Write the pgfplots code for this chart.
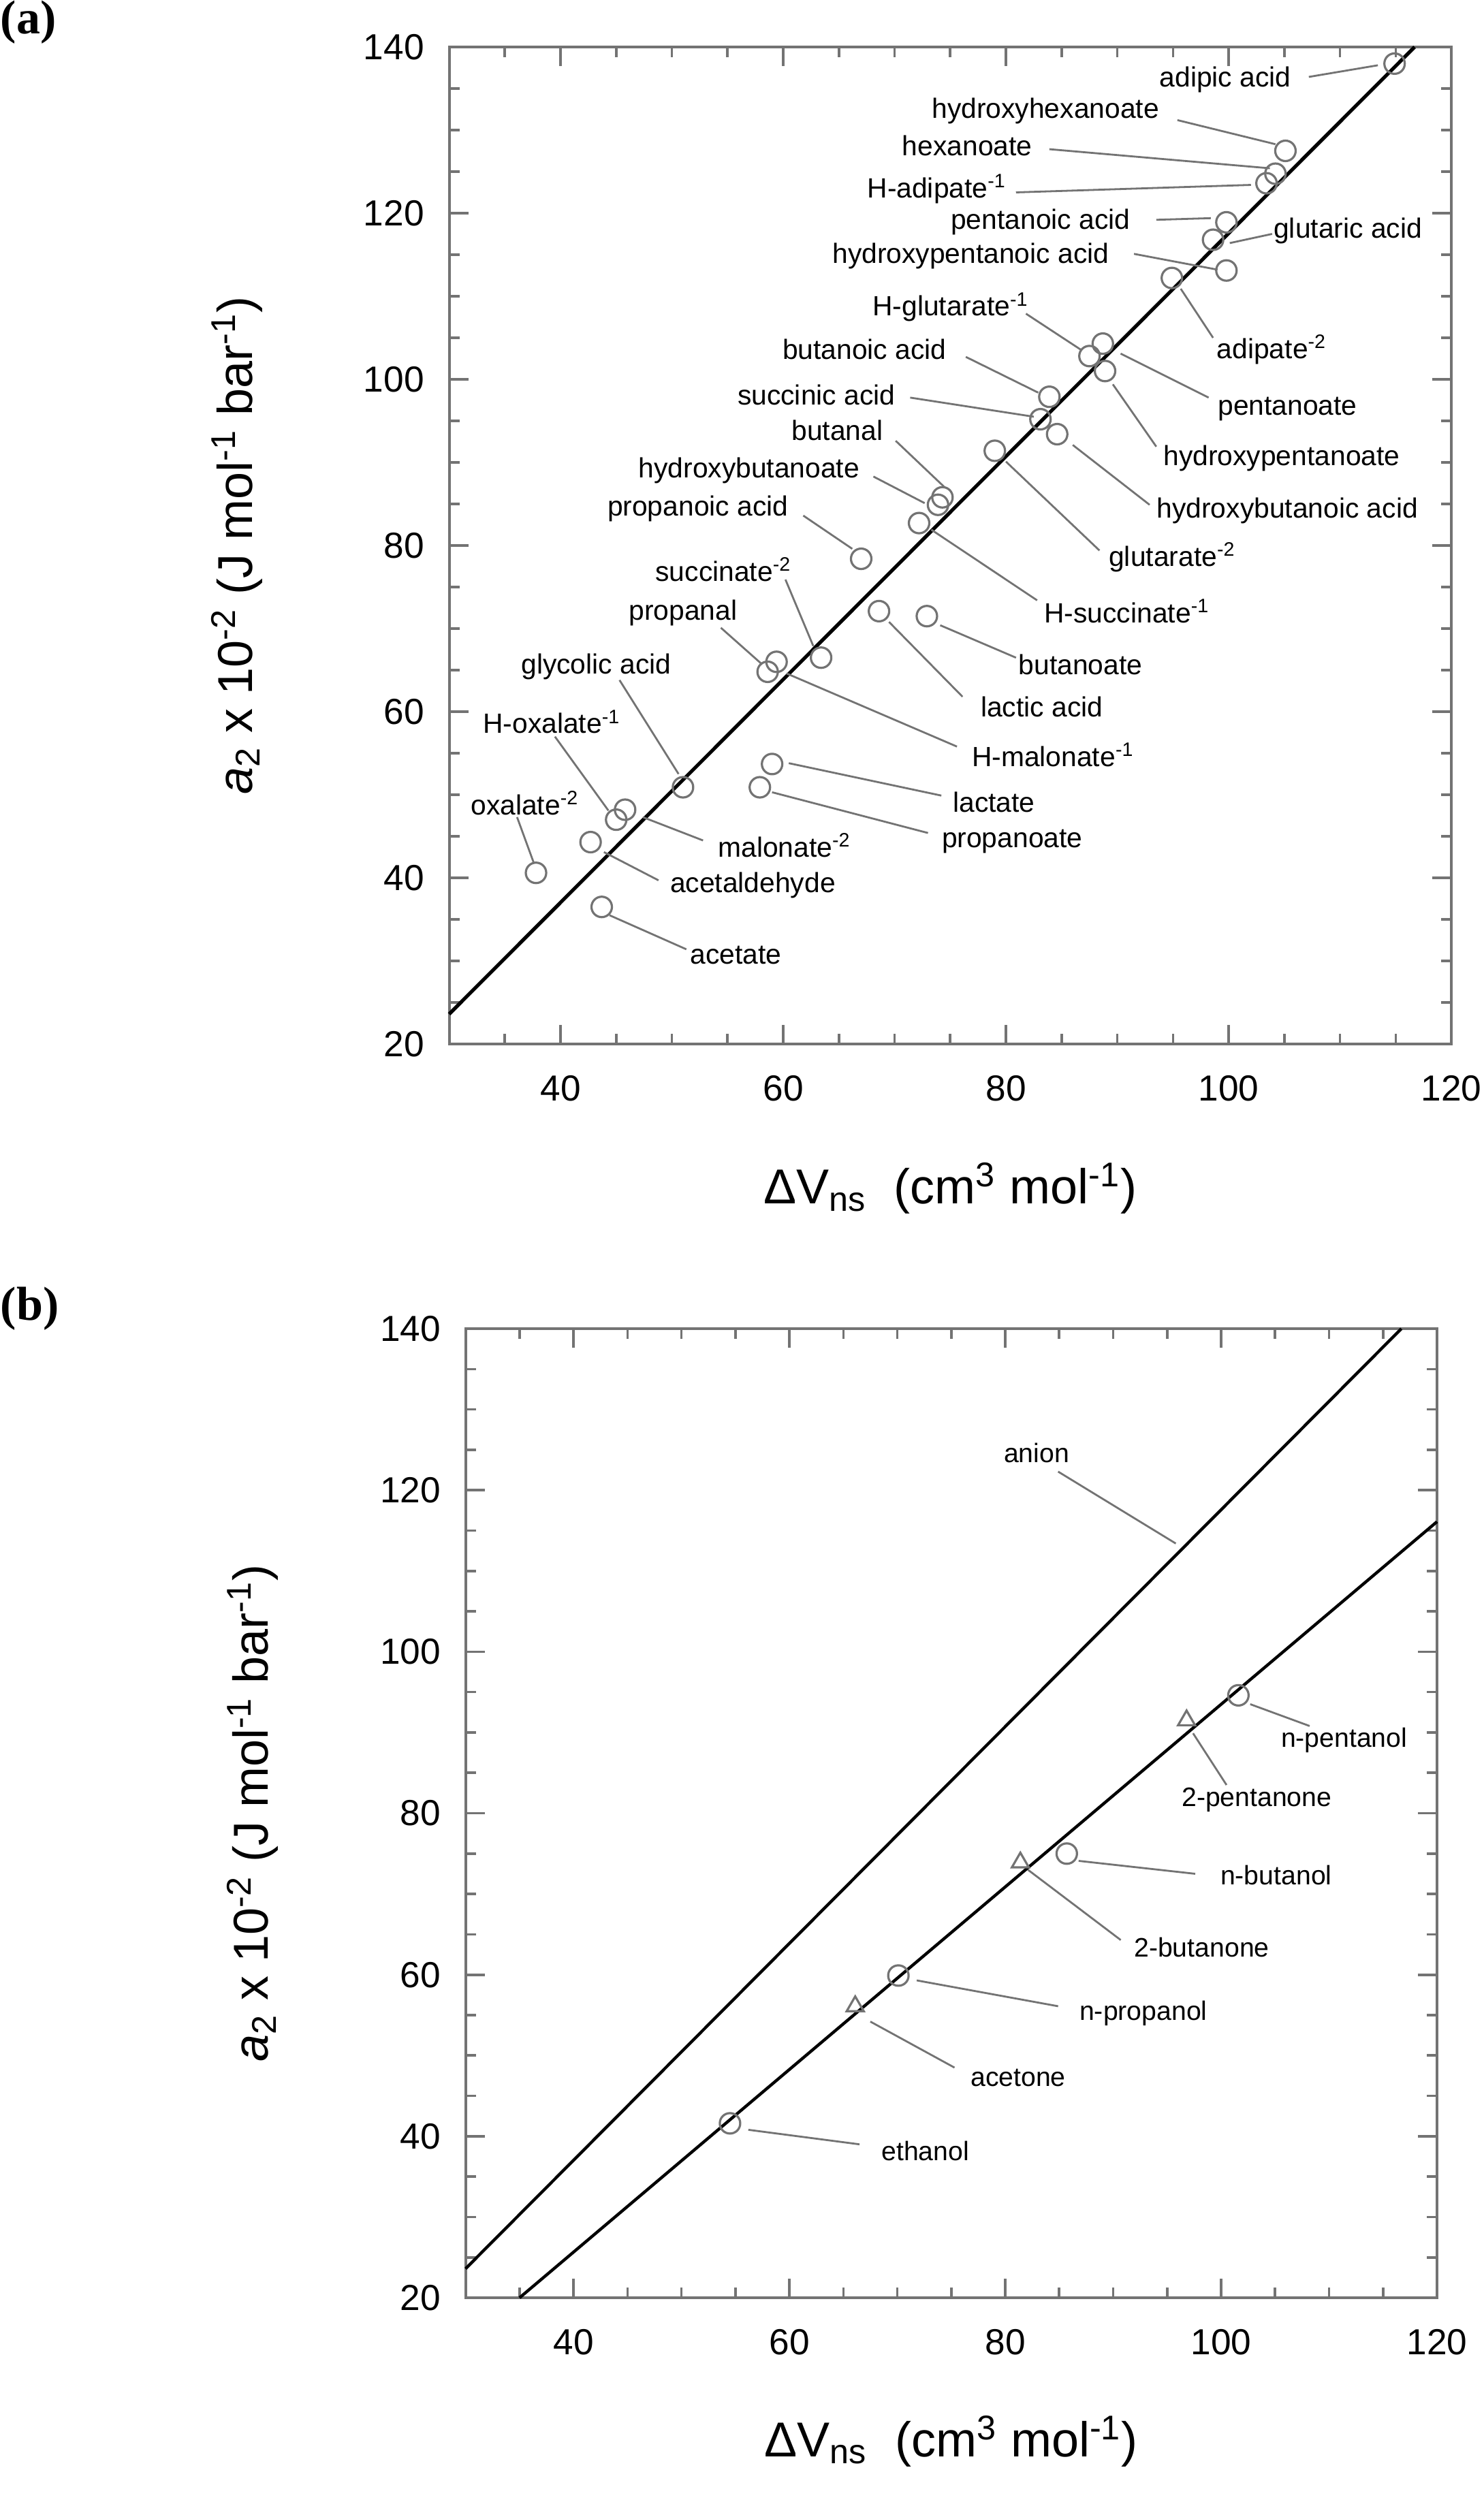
\documentclass[border=0pt]{standalone}
\usepackage{fontspec}
\setmainfont{Liberation Sans}
\newfontfamily\serifbf{Liberation Serif}
\usepackage{pgfplots}
\pgfplotsset{compat=1.18}

\pgfplotsset{
  panel/.style={
    scale only axis, anchor=south west, clip=false,
    xmin=30, xmax=120, ymin=20, ymax=140,
    xtick={40,60,...,120}, ytick={20,40,...,140},
    minor xtick={30,35,...,120}, minor ytick={20,25,...,140},
    tick align=inside,
    major tick length=7pt, minor tick length=3.75pt,
    axis line style={black!55, line width=1pt},
    every tick/.style={black!55, line width=0.9pt},
    ticklabel style={font=\fontsize{13.3}{16}\selectfont},
    /pgf/number format/assume math mode=true,
    xticklabel style={inner sep=0pt, anchor=north, yshift=-11.5pt},
    yticklabel style={inner sep=0pt, anchor=east, xshift=-9pt},
    label style={font=\fontsize{18}{21}\selectfont},
    xlabel={ΔV\textsubscript{ns}\ \ (cm\textsuperscript{3} mol\textsuperscript{-1})},
    ylabel={\textit{a}\textsubscript{2} x 10\textsuperscript{-2} (J mol\textsuperscript{-1} bar\textsuperscript{-1})},
  },
  pts/.style={only marks, mark=o, mark size=3.75pt, mark options={draw=black!55, line width=0.8pt}},
  tri/.style={only marks, mark=triangle, mark size=3.6pt, mark options={draw=black!55, line width=0.8pt}},
  fit/.style={black, line width=1.3pt},
}
\tikzset{
  lbl/.style={inner sep=0pt, font=\fontsize{10.2}{12}\selectfont},
  lblb/.style={inner sep=0pt, font=\fontsize{9.8}{12}\selectfont},
  ldr/.style={black!55, line width=0.7pt},
}

\begin{document}
\begin{tikzpicture}
\path[use as bounding box] (0,0) rectangle (544.75pt,-917.75pt);

\node[anchor=north west, inner sep=0pt, font=\serifbf\bfseries\fontsize{17.5}{20}\selectfont] at (0pt,0pt) {(a)};
\node[anchor=north west, inner sep=0pt, font=\serifbf\bfseries\fontsize{17.5}{20}\selectfont] at (0pt,-472.25pt) {(b)};

% ---------------- panel (a)
\begin{axis}[panel, at={(164.875pt,-383.25pt)}, width=367.9pt, height=366pt,
  xlabel style={at={(axis description cs:0.5,-0.145)}, anchor=center},
  ylabel style={at={(axis description cs:-0.212,0.5)}, anchor=center}]
\addplot[fit] coordinates {(30,23.6) (116.7,140)};
\addplot[pts] coordinates {
  (114.9,138.0) (105.1,127.5) (104.2,124.75) (103.4,123.6)
  (99.8,118.9) (98.6,116.8) (99.8,113.1) (94.9,112.2)
  (87.5,102.8) (88.7,104.3) (88.9,101.0)
  (83.9,97.9) (83.1,95.2) (84.6,93.4) (79.0,91.4)
  (74.3,85.8) (73.9,84.9) (72.2,82.7) (67.0,78.4)
  (63.4,66.5) (59.4,66.0) (58.6,64.8) (68.6,72.1) (72.9,71.5)
  (59.0,53.7) (57.9,50.9) (51.0,50.9)
  (45.0,47.0) (45.8,48.2) (42.7,44.3) (37.8,40.6) (43.7,36.5)
};
% labels and leaders
\node[lbl] at (99.7,136.1) {adipic acid};
\draw[ldr] (107.2,136.4) -- (113.4,137.8);
\node[lbl,anchor=east] at (93.8,132.3) {hydroxyhexanoate};
\draw[ldr] (95.4,131.2) -- (104.2,128.3);
\node[lbl,anchor=east] at (82.4,128.1) {hexanoate};
\draw[ldr] (83.9,127.7) -- (103.7,125.4);
\node[lbl,anchor=east] at (80.1,122.9) {H-adipate\textsuperscript{-1}};
\draw[ldr] (80.9,122.5) -- (102.0,123.4);
\node[lbl,anchor=east] at (91.2,118.9) {pentanoic acid};
\draw[ldr] (93.5,119.2) -- (98.4,119.4);
\node[lbl,anchor=west] at (104.0,117.9) {glutaric acid};
\draw[ldr] (103.9,117.5) -- (100.1,116.4);
\node[lbl,anchor=east] at (89.3,114.8) {hydroxypentanoic acid};
\draw[ldr] (91.5,115.1) -- (99.0,113.2);
\node[lbl,anchor=west] at (98.9,103.6) {adipate\textsuperscript{-2}};
\draw[ldr] (98.6,105.0) -- (95.7,110.9);
\node[lbl,anchor=west] at (99.0,96.4) {pentanoate};
\draw[ldr] (98.2,97.8) -- (90.3,103.1);
\node[lbl,anchor=west] at (94.1,90.5) {hydroxypentanoate};
\draw[ldr] (93.5,91.9) -- (89.6,99.4);
\node[lbl,anchor=west] at (93.5,84.2) {hydroxybutanoic acid};
\draw[ldr] (92.9,84.9) -- (86.0,92.1);
\node[lbl,anchor=west] at (89.2,78.6) {glutarate\textsuperscript{-2}};
\draw[ldr] (88.4,79.4) -- (80.0,90.1);
\node[lbl,anchor=east] at (82.1,108.7) {H-glutarate\textsuperscript{-1}};
\draw[ldr] (81.8,107.9) -- (86.8,103.5);
\node[lbl,anchor=east] at (74.7,103.6) {butanoic acid};
\draw[ldr] (76.4,102.7) -- (82.9,98.4);
\node[lbl,anchor=east] at (70.1,98.1) {succinic acid};
\draw[ldr] (71.4,97.8) -- (82.5,95.5);
\node[lbl,anchor=east] at (69.0,93.9) {butanal};
\draw[ldr] (70.1,92.6) -- (74.5,87.0);
\node[lbl,anchor=east] at (66.9,89.0) {hydroxybutanoate};
\draw[ldr] (68.1,88.3) -- (72.7,85.1);
\node[lbl,anchor=east] at (60.5,84.4) {propanoic acid};
\draw[ldr] (61.8,83.6) -- (66.2,79.6);
\node[lbl,anchor=west] at (83.4,72.1) {H-succinate\textsuperscript{-1}};
\draw[ldr] (82.8,73.4) -- (73.3,81.9);
\node[lbl,anchor=east] at (60.8,77.1) {succinate\textsuperscript{-2}};
\draw[ldr] (60.2,75.9) -- (62.7,67.9);
\node[lbl,anchor=east] at (55.9,71.9) {propanal};
\draw[ldr] (54.4,70.1) -- (58.1,65.7);
\node[lbl,anchor=west] at (81.1,65.7) {butanoate};
\draw[ldr] (80.9,66.5) -- (74.1,70.4);
\node[lbl,anchor=west] at (77.7,60.6) {lactic acid};
\draw[ldr] (76.1,61.8) -- (69.5,70.8);
\node[lbl,anchor=west] at (76.9,54.8) {H-malonate\textsuperscript{-1}};
\draw[ldr] (75.6,55.8) -- (60.3,64.6);
\node[lbl,anchor=west] at (75.2,49.1) {lactate};
\draw[ldr] (74.2,49.9) -- (60.5,53.8);
\node[lbl,anchor=west] at (74.2,44.4) {propanoate};
\draw[ldr] (73.0,45.4) -- (59.0,50.3);
\node[lbl] at (43.2,65.4) {glycolic acid};
\draw[ldr] (45.3,63.8) -- (50.6,52.5);
\node[lbl,anchor=west] at (33.0,58.8) {H-oxalate\textsuperscript{-1}};
\draw[ldr] (39.5,57.0) -- (44.3,48.1);
\node[lbl,anchor=west] at (31.9,49.0) {oxalate\textsuperscript{-2}};
\draw[ldr] (36.1,47.3) -- (37.6,41.8);
\node[lbl,anchor=west] at (54.1,43.9) {malonate\textsuperscript{-2}};
\draw[ldr] (52.8,44.5) -- (47.4,47.3);
\node[lbl,anchor=west] at (49.8,39.1) {acetaldehyde};
\draw[ldr] (48.8,39.7) -- (43.9,43.1);
\node[lbl,anchor=west] at (51.6,30.7) {acetate};
\draw[ldr] (51.3,31.4) -- (44.4,35.5);
\end{axis}

% ---------------- panel (b)
\begin{axis}[panel, at={(170.9pt,-843.5pt)}, width=356.6pt, height=355.75pt,
  xlabel style={at={(axis description cs:0.5,-0.148)}, anchor=center},
  ylabel style={at={(axis description cs:-0.219,0.5)}, anchor=center}]
\addplot[fit, line width=1.1pt] coordinates {(30,23.6) (116.7,140)};
\addplot[fit, line width=1.1pt] coordinates {(35,20) (120,116.1)};
% alcohols
\addplot[pts] coordinates {(54.5,41.6) (70.1,59.9) (85.7,75.0) (101.6,94.6)};
% ketones
\addplot[tri] coordinates {(66.1,56.1) (81.4,73.9) (96.8,91.5)};
\node[lblb] at (82.9,124.6) {anion};
\draw[ldr] (84.9,122.3) -- (95.8,113.4);
\node[lblb] at (111.4,89.0) {n-pentanol};
\draw[ldr] (108.2,90.8) -- (102.7,93.5);
\node[lblb] at (103.3,81.7) {2-pentanone};
\draw[ldr] (100.5,83.5) -- (97.4,89.9);
\node[lblb] at (105.1,72.3) {n-butanol};
\draw[ldr] (97.6,72.5) -- (86.8,74.1);
\node[lblb] at (98.2,63.4) {2-butanone};
\draw[ldr] (90.7,64.3) -- (82.1,73.0);
\node[lblb] at (92.8,55.2) {n-propanol};
\draw[ldr] (84.9,56.1) -- (71.8,59.3);
\node[lblb] at (81.2,47.2) {acetone};
\draw[ldr] (75.3,48.5) -- (67.5,54.2);
\node[lblb] at (72.6,38.2) {ethanol};
\draw[ldr] (66.5,39.0) -- (56.2,40.8);
\end{axis}
\end{tikzpicture}
\end{document}
